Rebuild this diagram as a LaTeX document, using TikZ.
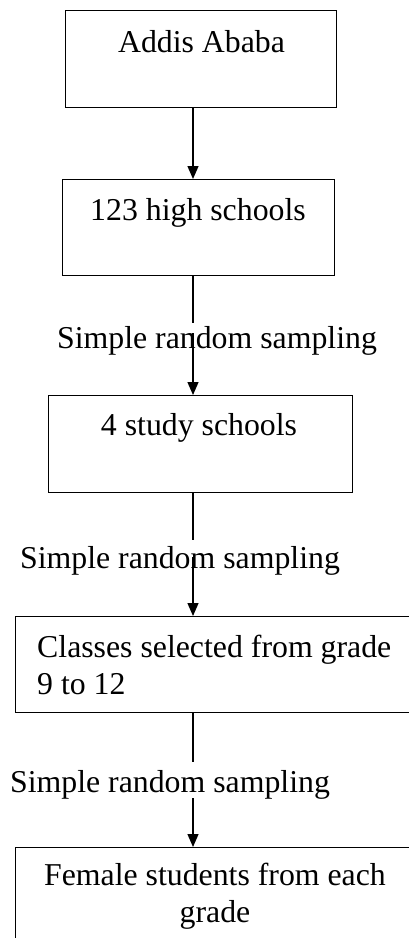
\documentclass[tikz,border=0pt]{standalone}
\usepackage{fontspec}
\setmainfont{Liberation Serif}
\usetikzlibrary{arrows.meta}
\begin{document}
\begin{tikzpicture}[x=1pt,y=-1pt,
  box/.style={draw=black,line width=1.3pt,rectangle,inner sep=0pt,anchor=north west},
  txt/.style={inner sep=0pt,font=\fontsize{31.8}{37}\selectfont},
  conn/.style={draw=black,line width=1.3pt},
  arr/.style={conn,-{Triangle[length=13pt,width=11pt]}}]
\useasboundingbox (0,0) rectangle (409,938);
\coordinate (ax) at (193,0);
% boxes
\node[box,minimum width=271pt,minimum height=97pt] (b1) at (65,10) {};
\node[box,minimum width=272pt,minimum height=96pt] (b2) at (62,179) {};
\node[box,minimum width=304pt,minimum height=97pt] (b3) at (48,395) {};
\node[box,minimum width=405pt,minimum height=96pt] (b4) at (15,616) {};
\node[box,minimum width=405pt,minimum height=110pt] (b5) at (15,847) {};
% box texts
\node[txt,anchor=base] (t1) at (201.5,52) {Addis Ababa};
\node[txt,anchor=base] (t2) at (198,220) {123 high schools};
\node[txt,anchor=base] (t3) at (199,435) {4 study schools};
\node[txt,anchor=base west,text width=370pt,align=flush left] (t4) at (37,657) {Classes selected from grade\\9 to 12};
\node[txt,anchor=base,text width=370pt,align=flush center] (t5) at (215,885) {Female students from each\\grade};
% labels
\node[txt,anchor=base] (l1) at (217,348) {Simple random sampling};
\node[txt,anchor=base] (l2) at (180,568) {Simple random sampling};
\node[txt,anchor=base] (l3) at (170,792) {Simple random sampling};
% gap coordinates
\coordinate (g1a) at (193,323);
\coordinate (g1b) at (193,333);
\coordinate (g2a) at (193,540);
\coordinate (g2b) at (193,557);
\coordinate (g3a) at (193,762);
\coordinate (g3b) at (193,798);
% connectors
\draw[arr] (b1.south -| ax) -- (b2.north -| ax);
\draw[conn] (b2.south -| ax) -- (g1a);
\draw[arr] (g1b) -- (b3.north -| ax);
\draw[conn] (b3.south -| ax) -- (g2a);
\draw[arr] (g2b) -- (b4.north -| ax);
\draw[conn] (b4.south -| ax) -- (g3a);
\draw[arr] (g3b) -- (b5.north -| ax);
\end{tikzpicture}
\end{document}
